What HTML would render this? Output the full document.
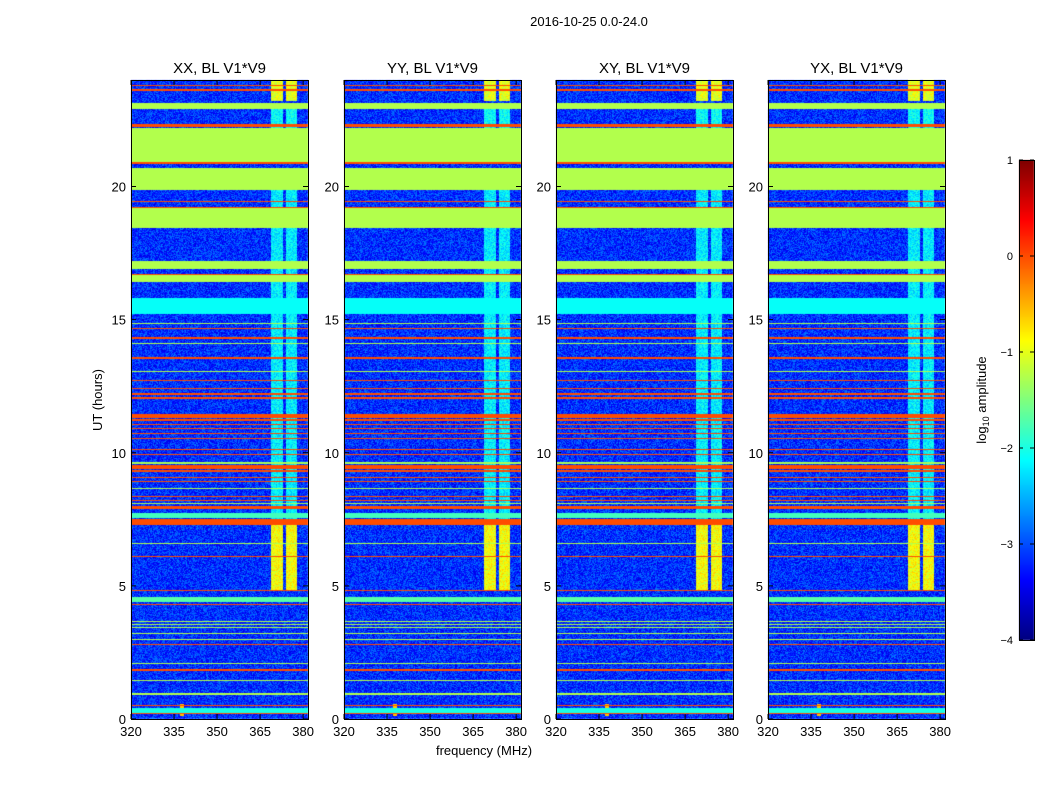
<!DOCTYPE html>
<html><head><meta charset="utf-8"><style>
html,body{margin:0;padding:0;background:#fff;}
#wrap{position:relative;width:1050px;height:800px;font-family:"Liberation Sans",sans-serif;}
canvas,svg{position:absolute;left:0;top:0;}
</style></head><body>
<div id="wrap">
<canvas id="cv" width="1050" height="800"></canvas>
<svg id="sv" width="1050" height="800"></svg>
</div>
<script>
// ---- data ----
const panelTitles = ["XX, BL V1*V9","YY, BL V1*V9","XY, BL V1*V9","YX, BL V1*V9"];
const freqTicks = [320,335,350,365,380];
const hourTicks = [0,5,10,15,20];
const cbarTicks = [1,0,-1,-2,-3,-4];
const backgroundLevel = -3.15;
// horizontal bands: [startHour, endHour, log10 amplitude]
const bandStart = [20.9,19.85,18.45,16.9,16.4,22.9,15.2,0.23,4.4,7.55,9.57,
  22.25,20.85,19.4,19.18,16.68,23.6,14.65,14.28,13.53,12.68,12.38,12.18,12.03,
  11.3,11.2,11.03,10.9,10.7,10.5,10.1,9.9,9.27,9.4,9.05,8.9,8.35,8.2,7.88,7.3,6.08,4.82,4.28,2.77,1.82,0.48,0.2,23.78,
  14.84,14.09,13.26,13.04,8.62,8.09,6.56,3.63,3.52,3.41,3.18,2.95,2.05,1.43,0.92];
const bandEnd = [22.2,20.7,19.2,17.2,16.66,23.15,15.8,0.41,4.6,7.75,9.65,
  22.35,20.92,19.45,19.23,16.73,23.65,14.7,14.34,13.58,12.73,12.43,12.23,12.08,
  11.45,11.25,11.07,10.94,10.74,10.54,10.14,9.94,9.35,9.53,9.09,8.94,8.39,8.24,8.0,7.5,6.12,4.86,4.32,2.81,1.86,0.52,0.24,23.83,
  14.88,14.13,13.26,13.08,8.66,8.13,6.6,3.67,3.56,3.45,3.22,2.99,2.09,1.47,0.96];
const bandValue = [-1.25,-1.25,-1.25,-1.25,-1.25,-1.25,-2.1,-2.0,-1.7,-1.8,-1.3,
  0,0,0,0,0,0,0,0,0,0,0,0,0,
  0,0,0,0,0,0,0,0,0,0,0,0,0,0,0,0,0,0,0,0,0,0,0,0,
  -1.25,-1.25,-1.25,-1.25,-1.25,-1.25,-1.25,-1.25,-1.25,-1.25,-1.25,-1.25,-1.25,-1.25,-1.25];
// RFI frequency columns
const rfiFreqStart = [368.8,374.0];
const rfiFreqEnd = [373.0,377.7];
const rfiHourStart = [4.8,7.3,21.0,23.2];
const rfiHourEnd = [7.3,19.9,22.9,24];
const rfiValue = [-0.9,-2.2,-2.1,-1.0];

// ---- geometry ----
const panelX = [131,344,556,768];
const PW=177, PY=80, PH=639;
const FMIN=320, FMAX=381.7, HMAX=24;
function xScale(f,i){return panelX[i]+(f-FMIN)/(FMAX-FMIN)*PW;}
function yScale(h){return PY+PH-h/HMAX*PH;}
function jet(v){
  let t=Math.max(0,Math.min(1,(v+4)/5));
  const r=Math.max(0,Math.min(1,1.5-Math.abs(4*t-3)));
  const g=Math.max(0,Math.min(1,1.5-Math.abs(4*t-2)));
  const b=Math.max(0,Math.min(1,1.5-Math.abs(4*t-1)));
  return [r*255|0,g*255|0,b*255|0];
}
function hash(x,y){let n=x*374761393+y*668265263;n=(n^(n>>>13))*1274126177;return ((n^(n>>>16))>>>0)/4294967295;}

const cv=document.getElementById('cv'),ctx=cv.getContext('2d');
for(let p=0;p<4;p++){
  const img=ctx.createImageData(PW,PH);
  for(let py=0;py<PH;py++){
    const h=(PH-py-0.5)/PH*HMAX;
    let flat=null;
    for(let k=0;k<bandStart.length;k++) if(h>=bandStart[k]&&h<bandEnd[k]){ if(flat===null||bandValue[k]>flat) flat=bandValue[k]; }
    for(let px=0;px<PW;px++){
      const f=FMIN+(px+0.5)/PW*(FMAX-FMIN);
      let v;
      if(flat!==null) v=flat;
      else{
        v=backgroundLevel+(hash(px+p*997,py)-0.5)*0.8;
        for(let r=0;r<rfiFreqStart.length;r++) if(f>=rfiFreqStart[r]&&f<rfiFreqEnd[r])
          for(let q=0;q<rfiHourStart.length;q++) if(h>=rfiHourStart[q]&&h<rfiHourEnd[q]) v=rfiValue[q]+(hash(px,py+p)-0.5)*0.6;
        if(h<0.55&&h>0.1&&f>337&&f<338.6) v=Math.max(v,-0.6);
      }
      const c=jet(v),o=(py*PW+px)*4;
      img.data[o]=c[0];img.data[o+1]=c[1];img.data[o+2]=c[2];img.data[o+3]=255;
    }
  }
  ctx.putImageData(img,panelX[p],PY);
}
const CBX=1019,CBW=15,CBT=160,CBB=640;
for(let y=CBT;y<CBB;y++){const v=1-(y-CBT)/(CBB-CBT)*5;const c=jet(v);ctx.fillStyle=`rgb(${c})`;ctx.fillRect(CBX,y,CBW,1);}

const NS='http://www.w3.org/2000/svg',sv=document.getElementById('sv');
function el(tag,attrs,txt){const e=document.createElementNS(NS,tag);for(const k in attrs)e.setAttribute(k,attrs[k]);if(txt!==undefined)e.textContent=txt;sv.appendChild(e);return e;}
let t=el('text',{x:589,y:26,'text-anchor':'middle','font-size':13},'2016-10-25 0.0-24.0');

for(let p=0;p<4;p++){
  const x0=panelX[p];
  let r=el('rect',{x:x0+0.5,y:PY+0.5,width:PW,height:PH,fill:'none',stroke:'#000'});
  
  let tt=el('text',{x:x0+PW/2,y:73,'text-anchor':'middle','font-size':15},panelTitles[p]);
  
  freqTicks.forEach(f=>{const x=xScale(f,p);
    el('line',{x1:x,x2:x,y1:PY+PH,y2:PY+PH-5,stroke:'#000'});
    el('line',{x1:x,x2:x,y1:PY,y2:PY+5,stroke:'#000'});
    const l=el('text',{x:x,y:PY+PH+17,'text-anchor':'middle','font-size':13},String(f));
    });
  hourTicks.forEach(h=>{const y=yScale(h);
    el('line',{x1:x0,x2:x0+5,y1:y,y2:y,stroke:'#000'});
    el('line',{x1:x0+PW,x2:x0+PW-5,y1:y,y2:y,stroke:'#000'});
    const l=el('text',{x:x0-5,y:y+5,'text-anchor':'end','font-size':13},String(h));
    });
}
let xl=el('text',{x:484,y:755,'text-anchor':'middle','font-size':13},'frequency (MHz)');

let yl=el('text',{x:102,y:400,'text-anchor':'middle','font-size':13,transform:'rotate(-90 102 400)'},'UT (hours)');

let cb=el('rect',{x:CBX+0.5,y:CBT+0.5,width:CBW,height:CBB-CBT,fill:'none',stroke:'#000'});

cbarTicks.forEach(v=>{const y=CBT+(1-v)/5*(CBB-CBT);
  el('line',{x1:CBX,x2:CBX+4,y1:y,y2:y,stroke:'#000'});
  el('line',{x1:CBX+CBW,x2:CBX+CBW-4,y1:y,y2:y,stroke:'#000'});
  const l=el('text',{x:CBX-6,y:y+4,'text-anchor':'end','font-size':11},v<0?'\u2212'+(-v):String(v));
  });
let cl=el('text',{x:986,y:400,'text-anchor':'middle','font-size':13,transform:'rotate(-90 986 400)'});

cl.innerHTML='log<tspan font-size="9" dy="3">10</tspan><tspan dy="-3"> amplitude</tspan>';
</script>
</body></html>
